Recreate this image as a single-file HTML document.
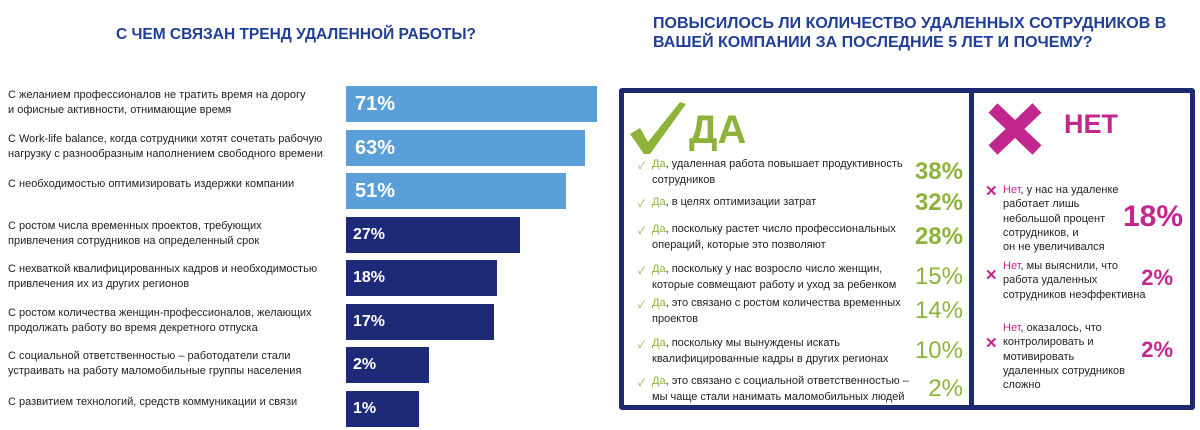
<!DOCTYPE html>
<html><head><meta charset="utf-8">
<style>
body{margin:0;width:1200px;height:430px;background:#fff;position:relative;overflow:hidden;font-family:"Liberation Sans","Noto Sans CJK SC",sans-serif;}
.abs{position:absolute;}
.title{color:#1f3f97;font-weight:bold;font-size:15.5px;line-height:19px;}
.lbl{font-size:11px;line-height:15px;color:#222;}
.item{font-size:11px;line-height:15.5px;color:#222;}
.g{color:#8db33a;}
.m{color:#c2268f;}
.pg{color:#8db33a;font-size:24px;font-weight:bold;}
.pgl{color:#8db33a;font-size:24px;}
.pm{color:#c2268f;font-size:24px;font-weight:bold;}
</style></head><body>
<div class="abs title" style="left:0;width:592px;top:25px;text-align:center;">С ЧЕМ СВЯЗАН ТРЕНД УДАЛЕННОЙ РАБОТЫ?</div>
<div class="abs title" style="left:653px;top:14px;font-size:16px;">ПОВЫСИЛОСЬ ЛИ КОЛИЧЕСТВО УДАЛЕННЫХ СОТРУДНИКОВ В<br>ВАШЕЙ КОМПАНИИ ЗА ПОСЛЕДНИЕ 5 ЛЕТ И ПОЧЕМУ?</div>

<div id="chart"></div>

<div class="abs" style="left:619px;top:88px;width:566px;height:312px;border:5px solid #1d2a72;border-radius:3px;"></div>
<div class="abs" style="left:969px;top:88px;width:5px;height:322px;background:#1d2a72;"></div>

<svg class="abs" style="left:628px;top:100px" width="60" height="56"><path d="M2 34 L12 28 L20 42 L52 2 L58 4 L22 54 L16 54 Z" fill="#8db33a"/></svg>
<div class="abs" style="left:689px;top:108px;color:#8db33a;font-size:40px;font-weight:bold;">ДА</div>
<svg class="abs" style="left:987px;top:102px" width="56" height="54"><path d="M6 6 L50 48 M50 6 L6 48" stroke="#c2268f" stroke-width="13"/></svg>
<div class="abs" style="left:1064px;top:109px;color:#c2268f;font-size:27px;font-weight:bold;">НЕТ</div>

<div id="yes"></div>
<div id="no"></div>

<script>
const categories=["С желанием профессионалов не тратить время на дорогу<br>и офисные активности, отнимающие время","С Work-life balance, когда сотрудники хотят сочетать рабочую<br>нагрузку с разнообразным наполнением свободного времени","С необходимостью оптимизировать издержки компании","С ростом числа временных проектов, требующих<br>привлечения сотрудников на определенный срок","С нехваткой квалифицированных кадров и необходимостью<br>привлечения их из других регионов","С ростом количества женщин-профессионалов, желающих<br>продолжать работу во время декретного отпуска","С социальной ответственностью – работодатели стали<br>устраивать на работу маломобильные группы населения","С развитием технологий, средств коммуникации и связи"];
const values=[71,63,51,27,18,17,2,1];
const highlight=[1,1,1,0,0,0,0,0];

const yesText=["<span class='g'>Да</span>, удаленная работа повышает продуктивность<br>сотрудников","<span class='g'>Да</span>, в целях оптимизации затрат","<span class='g'>Да</span>, поскольку растет число профессиональных<br>операций, которые это позволяют","<span class='g'>Да</span>, поскольку у нас возросло число женщин,<br>которые совмещают работу и уход за ребенком","<span class='g'>Да</span>, это связано с ростом количества временных<br>проектов","<span class='g'>Да</span>, поскольку мы вынуждены искать<br>квалифицированные кадры в других регионах","<span class='g'>Да</span>, это связано с социальной ответственностью –<br>мы чаще стали нанимать маломобильных людей"];
const yesValues=[38,32,28,15,14,10,2];
const noText=["<span class='m'>Нет</span>, у нас на удаленке<br>работает лишь<br>небольшой процент<br>сотрудников, и<br>он не увеличивался","<span class='m'>Нет</span>, мы выяснили, что<br>работа удаленных<br>сотрудников неэффективна","<span class='m'>Нет</span>, оказалось, что<br>контролировать и<br>мотивировать<br>удаленных сотрудников<br>сложно"];
const noValues=[18,2,2];

const x0=346;
function xw(v){return 73+178*(Math.sqrt(v)-1)/(Math.sqrt(71)-1);}
function yb(i){return 86+i*43.5;}

const chart=document.getElementById('chart');
values.forEach((v,i)=>{
  const y=yb(i);
  const l=document.createElement('div');
  l.className='abs lbl';
  l.style.left='8px';
  l.style.top=(y+(categories[i].includes('<br>')?2:4))+'px';
  l.innerHTML=categories[i];
  
  
  chart.appendChild(l);
  const b=document.createElement('div');
  b.className='abs';
  b.style.cssText=`left:${x0}px;top:${y}px;width:${xw(v)}px;height:36px;background:${highlight[i]?'#5b9fd8':'#1e2a78'};color:#fff;font-weight:bold;font-size:${highlight[i]?20:16}px;line-height:36px;padding-left:${highlight[i]?9:7}px;box-sizing:border-box;`;
  b.textContent=v+'%';
  
  
  chart.appendChild(b);
});

const yes=document.getElementById('yes');
const yesTops=[157,195,222,262,296,336,374];
yesValues.forEach((v,i)=>{
  const t=yesTops[i];
  const two=yesText[i].includes('<br>');
  const it=document.createElement('div');
  it.className='abs item';
  it.style.left='652px';it.style.top=t+'px';
  it.innerHTML=yesText[i];
  
  
  yes.appendChild(it);
  const ck=document.createElement('div');
  ck.className='abs';
  ck.style.cssText=`left:638px;top:${t}px;color:#8db33a;font-size:10px;`;
  ck.textContent='✓';
  
  
  yes.appendChild(ck);
  const p=document.createElement('div');
  p.className='abs '+(i<3?'pg':'pgl');
  p.style.cssText+=`right:${1200-963}px;top:${t+(two?1:-6)}px;`;
  p.textContent=v+'%';
  
  
  yes.appendChild(p);
});

const no=document.getElementById('no');
const noTops=[183,259,321];
const noPct=[[200,30],[265,22],[337,22]];
noValues.forEach((v,i)=>{
  const t=noTops[i];
  const it=document.createElement('div');
  it.className='abs item';
  it.style.left='1003px';it.style.top=t+'px';it.style.lineHeight='14.3px';
  it.innerHTML=noText[i];
  
  
  no.appendChild(it);
  const ck=document.createElement('div');
  ck.className='abs';
  ck.style.cssText=`left:985px;top:${i==0?t-1:t+(i==1?7:13)}px;color:#c2268f;font-size:15px;font-weight:bold;`;
  ck.textContent='✕';
  
  
  no.appendChild(ck);
  const p=document.createElement('div');
  p.className='abs pm';
  p.style.cssText+=`right:${1200-(i==0?1183:1173)}px;top:${noPct[i][0]}px;font-size:${noPct[i][1]}px;`;
  p.textContent=v+'%';
  
  
  no.appendChild(p);
});
</script>
</body></html>
